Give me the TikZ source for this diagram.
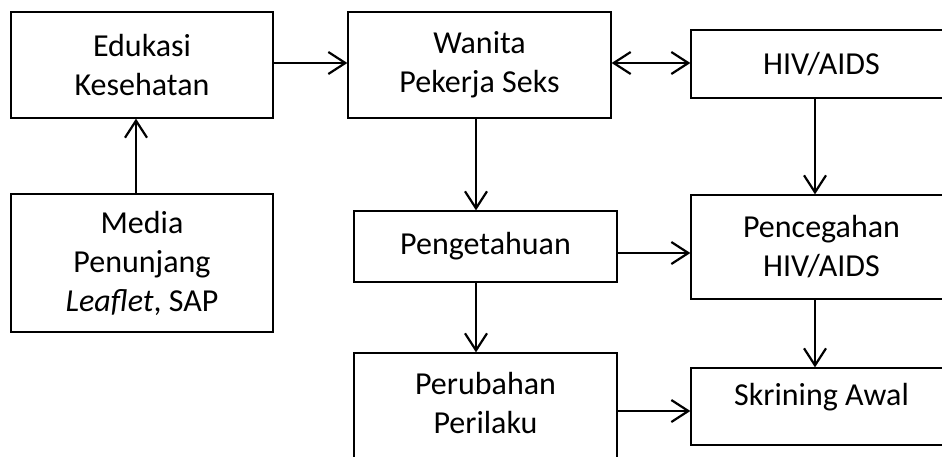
\documentclass[tikz,border=0pt]{standalone}
\usepackage{fontspec}
\setmainfont{Carlito}
\usetikzlibrary{arrows.meta}
\begin{document}
\begin{tikzpicture}[x=1pt,y=-1pt,
  txt/.style={font=\fontsize{32}{39}\selectfont, align=center, inner sep=0pt},
  box/.style={draw=black, line width=1.3pt, rectangle, inner sep=0pt, txt},
  barb/.tip={Straight Barb[length=17pt,width=22pt]},
  arr/.style={line width=2.2pt, -barb},
  darr/.style={line width=2.2pt, barb-barb}]
\useasboundingbox (0,0) rectangle (942,456);
% left column
\node[box, minimum width=262pt, minimum height=106pt] (edu) at (142,65) {Edukasi\\Kesehatan};
\node[box, minimum width=262pt, minimum height=138pt] (media) at (142,263) {Media\\Penunjang\\\textit{Leaflet}, SAP};
% middle column
\node[box, minimum width=263pt, minimum height=106pt] (wps) at (479.5,65) {Wanita\\Pekerja Seks};
\node[box, minimum width=263pt, minimum height=71pt] (peng) at (485.5,246.5) {Pengetahuan};
\node[box, minimum width=263pt, minimum height=117pt] (perub) at (485.5,411.5) {};
\node[txt] (perubt) at (485.5,403) {Perubahan\\Perilaku};
% right column
\node[box, minimum width=261pt, minimum height=68pt] (hiv) at (821.5,64) {HIV/AIDS};
\node[box, minimum width=261pt, minimum height=104pt] (penc) at (821.5,247) {Pencegahan\\HIV/AIDS};
\node[box, minimum width=261pt, minimum height=77pt] (skr) at (821.5,406.5) {};
\node[txt] (skrt) at (821.5,397.5) {Skrining Awal};
% connectors
\draw[arr] (edu.east |- 0,63) -- (wps.west |- 0,63);
\draw[darr] (wps.east |- 0,63) -- (hiv.west |- 0,63);
\draw[arr] (media.north -| 136,0) -- (edu.south -| 136,0);
\draw[arr] (wps.south -| 476,0) -- (peng.north -| 476,0);
\draw[arr] (peng.south -| 476,0) -- (perub.north -| 476,0);
\draw[arr] (hiv.south -| 815,0) -- (penc.north -| 815,0);
\draw[arr] (penc.south -| 815,0) -- (skr.north -| 815,0);
\draw[arr] (peng.east |- 0,253) -- (penc.west |- 0,253);
\draw[arr] (perub.east |- 0,411) -- (skr.west |- 0,411);
\end{tikzpicture}
\end{document}
